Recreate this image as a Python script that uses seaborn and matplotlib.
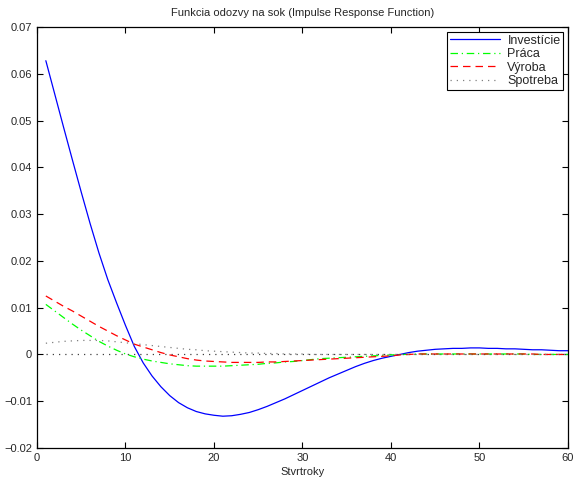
import numpy as np
import pandas as pd
import matplotlib
matplotlib.use("Agg")
import matplotlib.pyplot as plt
import seaborn as sns

# quarters 1..60
quarters = list(range(1, 61))

investicie = [0.0628, 0.0557, 0.0486, 0.0416, 0.0347, 0.0280, 0.0217, 0.0160, 0.0110, 0.0062,
              0.0017, -0.0018, -0.0046, -0.0069, -0.0088, -0.0103, -0.0114, -0.0122, -0.0127, -0.0130,
              -0.0132, -0.0131, -0.0128, -0.0124, -0.0118, -0.0111, -0.0103, -0.0095, -0.0086, -0.0077,
              -0.0068, -0.0059, -0.0050, -0.0042, -0.0034, -0.0026, -0.0019, -0.0013, -0.0008, -0.0004,
              0.0000, 0.0004, 0.0007, 0.0009, 0.0011, 0.0012, 0.0013, 0.0013, 0.0014, 0.0014,
              0.0013, 0.0013, 0.0012, 0.0012, 0.0011, 0.0010, 0.0010, 0.0009, 0.0008, 0.0008]

praca = [0.0107, 0.0093, 0.0079, 0.0065, 0.0052, 0.0040, 0.0028, 0.0018, 0.0009, 0.0001,
         -0.0005, -0.0010, -0.0014, -0.0017, -0.0020, -0.0022, -0.0024, -0.0025, -0.0025, -0.0025,
         -0.0025, -0.0024, -0.0023, -0.0022, -0.0021, -0.0019, -0.0018, -0.0016, -0.0015, -0.0013,
         -0.0011, -0.0009, -0.0008, -0.0007, -0.0006, -0.0005, -0.0004, -0.0003, -0.0002, -0.0001,
         0.0000, 0.0000, 0.0001, 0.0001, 0.0001, 0.0001, 0.0001, 0.0001, 0.0001, 0.0001,
         0.0001, 0.0001, 0.0001, 0.0001, 0.0001, 0.0000, 0.0000, 0.0000, 0.0000, 0.0000]

vyroba = [0.0125, 0.0114, 0.0103, 0.0093, 0.0082, 0.0071, 0.0060, 0.0050, 0.0040, 0.0031,
          0.0022, 0.0016, 0.0010, 0.0004, -0.0001, -0.0005, -0.0009, -0.0012, -0.0014, -0.0015,
          -0.0016, -0.0017, -0.0017, -0.0017, -0.0017, -0.0016, -0.0016, -0.0015, -0.0014, -0.0013,
          -0.0012, -0.0011, -0.0010, -0.0009, -0.0008, -0.0007, -0.0006, -0.0005, -0.0004, -0.0003,
          -0.0001, 0.0000, 0.0001, 0.0001, 0.0001, 0.0001, 0.0001, 0.0001, 0.0001, 0.0001,
          0.0001, 0.0001, 0.0001, 0.0001, 0.0001, 0.0001, 0.0000, 0.0000, 0.0000, 0.0000]

spotreba = [0.0024, 0.0026, 0.0028, 0.0029, 0.0030, 0.0030, 0.0030, 0.0029, 0.0027, 0.0025,
            0.0023, 0.0021, 0.0019, 0.0017, 0.0015, 0.0013, 0.0011, 0.0010, 0.0008, 0.0007,
            0.0006, 0.0005, 0.0004, 0.0003, 0.0003, 0.0002, 0.0002, 0.0001, 0.0001, 0.0001,
            0.0000, 0.0000, 0.0000, 0.0000, 0.0000, 0.0000, 0.0000, 0.0000, 0.0000, 0.0000,
            0.0000, 0.0000, 0.0000, 0.0000, 0.0000, 0.0000, 0.0000, 0.0000, 0.0000, 0.0000,
            0.0000, 0.0000, 0.0000, 0.0000, 0.0000, 0.0000, 0.0000, 0.0000, 0.0000, 0.0000]

zero_line = [0.0] * 60

x_ticks = [0, 10, 20, 30, 40, 50, 60]
y_ticks = [-0.02, -0.01, 0, 0.01, 0.02, 0.03, 0.04, 0.05, 0.06, 0.07]
y_ticklabels = ["\u22120.02", "\u22120.01", "0", "0.01", "0.02", "0.03", "0.04", "0.05", "0.06", "0.07"]

sns.set_style("ticks")
plt.rcParams['font.family'] = ['Liberation Sans', 'DejaVu Sans']
plt.rcParams['xtick.direction'] = 'in'
plt.rcParams['ytick.direction'] = 'in'

fig = plt.figure(figsize=(5.78, 4.79), dpi=100)
ax = fig.add_axes([0.064, 0.0647, 0.9187, 0.8789])

sns.lineplot(x=quarters, y=zero_line, ax=ax, color="#404040", linestyle=(0, (1, 4)), linewidth=0.9)
sns.lineplot(x=quarters, y=investicie, ax=ax, color="#0000ff", linewidth=0.9, label="Investície")
sns.lineplot(x=quarters, y=praca, ax=ax, color="#00ff00", linewidth=0.9,
             linestyle=(0, (6, 3, 1, 3)), label="Práca")
sns.lineplot(x=quarters, y=vyroba, ax=ax, color="#ff0000", linewidth=0.9,
             linestyle=(0, (6, 4)), label="Výroba")
sns.lineplot(x=quarters, y=spotreba, ax=ax, color="#808080", linewidth=0.9,
             linestyle=(0, (1, 4)), label="Spotreba")

ax.set_xlim(0, 60)
ax.set_ylim(-0.02, 0.07)
ax.set_xticks(x_ticks)
ax.set_yticks(y_ticks)
ax.set_yticklabels(y_ticklabels)
ax.tick_params(axis='both', labelsize=8, length=4, width=0.8, top=True, right=True, color='black')
for s in ax.spines.values():
    s.set_visible(True)
    s.set_linewidth(0.9)
    s.set_color('black')

ax.set_xlabel("Stvrtroky", fontsize=8, labelpad=3)
ax.set_title("Funkcia odozvy na sok (Impulse Response Function)", fontsize=8, pad=8)

leg = ax.legend(loc="upper right", fontsize=9, frameon=True, fancybox=False,
                edgecolor='black', framealpha=1, borderpad=0.2, labelspacing=0.12,
                handlelength=4.0, handletextpad=0.6, borderaxespad=0.4)
leg.get_frame().set_linewidth(0.8)

fig.savefig("out.png", dpi=100)
